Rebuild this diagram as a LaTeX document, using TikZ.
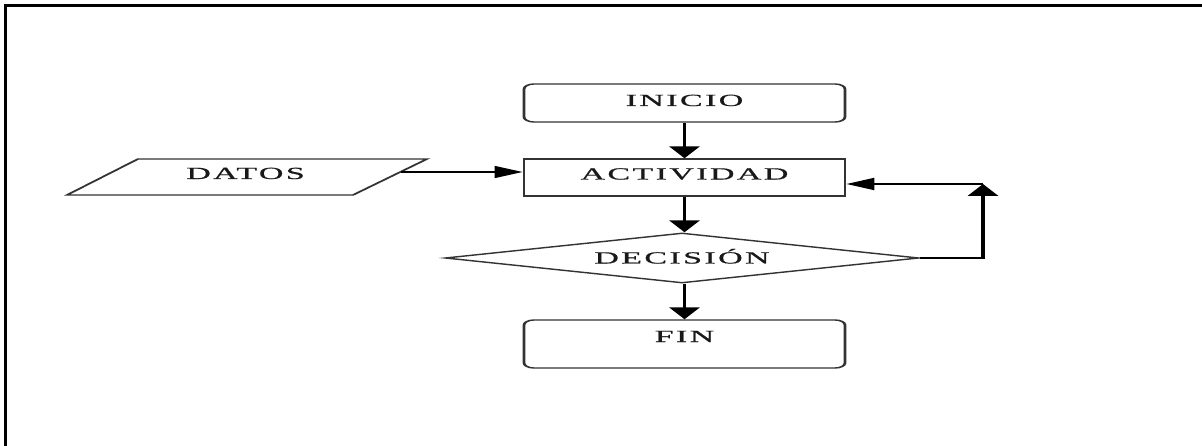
\documentclass[tikz,border=0pt]{standalone}
\usepackage{fontspec}
\setmainfont{Liberation Serif}[LetterSpace=7, FakeBold=0.6]
\usetikzlibrary{arrows.meta,shapes.geometric}

\begin{document}
\begin{tikzpicture}[x=1pt,y=-1pt]
  \useasboundingbox (0,0) rectangle (1202,446);
  % frame along the top and left edges
  \draw[line width=2.7pt] (5.3,446) -- (5.3,5.3) -- (1202,5.3);

  % the chart itself is drawn on a canvas stretched twice as wide
  \begin{scope}[transform canvas={xscale=2}, x=0.5pt, y=-1pt,
      lbl/.style={font={\fontsize{17pt}{19pt}\selectfont}, text=black!90},
      outline/.style={draw=black!80, line width=1.4pt},
      stepbox/.style={outline, lbl, inner sep=0pt, minimum width=160.5pt},
      roundbox/.style={stepbox, rounded corners=5pt},
      conn/.style={draw=black, line width=1.9pt},
      vtip/.style={-{Triangle[width=15pt,length=12pt]}},
      htip/.style={-{Triangle[width=12pt,length=14pt]}}]

    \node[roundbox, minimum height=38pt, text height=22pt, text depth=16pt]
      (inicio) at (684.5,103) {INICIO};
    \node[stepbox, minimum height=37pt, text height=20.5pt, text depth=16.5pt]
      (actividad) at (684.5,177.5) {ACTIVIDAD};
    \node[diamond, aspect=4.74, outline, lbl, inner sep=0pt,
      minimum width=237pt, minimum height=50pt, text height=11pt, text depth=0pt]
      (decision) at (682,258) {DECISIÓN};
    \node[roundbox, minimum height=48pt, text height=22pt, text depth=26pt]
      (fin) at (684.5,344) {FIN};

    % input parallelogram
    \coordinate (dtl) at (138,159);
    \coordinate (dtr) at (427,159);
    \coordinate (dbr) at (353,195);
    \coordinate (dbl) at (67,195);
    \draw[outline] (dtl) -- (dtr) -- (dbr) -- (dbl) -- cycle;
    \node[lbl, inner sep=0pt, text height=11pt, text depth=0pt]
      (datos) at (245.5,173.5) {DATOS};
    \coordinate (datosout) at (401,172);

    % loop back from the decision
    \coordinate (loopdown) at (983,258);
    \coordinate (looptop) at (983,184);

    \draw[conn, vtip] (inicio.south) -- (actividad.north);
    \draw[conn, vtip] (actividad.south) -- (actividad.south |- decision.north);
    \draw[conn, vtip] (fin.north |- decision.south) -- (fin.north);
    \draw[conn, line width=1.4pt, htip] (datosout) -- (actividad.west |- datosout);
    \draw[conn, vtip] (decision.east) -- (loopdown) -- (looptop);
    \draw[conn, htip] (looptop) -- (actividad.east |- looptop);
  \end{scope}
\end{tikzpicture}
\end{document}
